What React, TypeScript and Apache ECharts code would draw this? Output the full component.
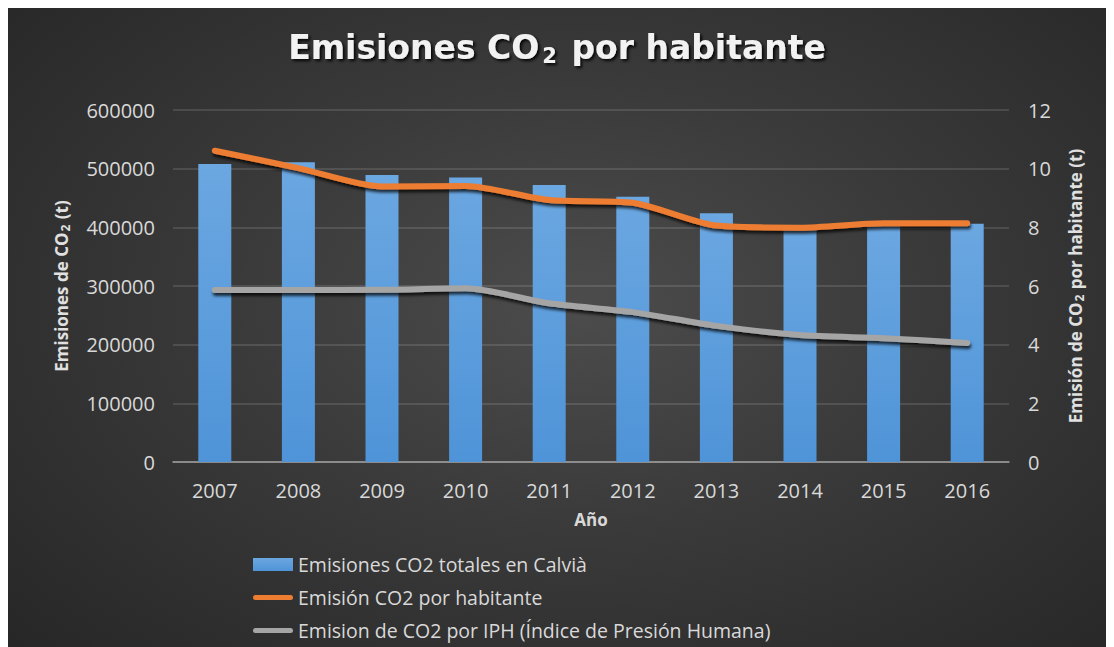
import React, { useEffect, useRef } from "react";
import * as echarts from "echarts";

const years = ["2007", "2008", "2009", "2010", "2011", "2012", "2013", "2014", "2015", "2016"];
const totalEmissions = [508000, 511000, 489000, 485000, 472000, 452000, 424000, 400000, 403000, 406000];
const perInhabitant = [10.61, 10.02, 9.39, 9.41, 8.93, 8.84, 8.06, 7.99, 8.14, 8.14];
const perIPH = [5.86, 5.86, 5.87, 5.92, 5.41, 5.11, 4.64, 4.33, 4.22, 4.06];

const barName = "Emisiones CO2 totales en Calvià";
const orangeName = "Emisión CO2 por habitante";
const grayName = "Emision de CO2 por IPH (Índice de Presión Humana)";

const FONT = "'Open Sans', 'Noto Sans', sans-serif";
const TITLE_FONT = "'DejaVu Sans', 'Open Sans', sans-serif";
const LINE_ICON =
  "path://M2.5,0 L37.5,0 A2.5,2.5 0 0 1 37.5,5 L2.5,5 A2.5,2.5 0 0 1 2.5,0 Z";

export default function App() {
  const ref = useRef<HTMLDivElement>(null);

  useEffect(() => {
    if (!ref.current) return;
    const chart = echarts.init(ref.current, null, { renderer: "svg" });
    const lineShadow = {
      shadowColor: "rgba(0,0,0,0.75)",
      shadowBlur: 3,
      shadowOffsetX: 1,
      shadowOffsetY: 3,
    };
    const titleShadow = {
      textShadowColor: "rgba(0,0,0,0.9)",
      textShadowBlur: 3,
      textShadowOffsetX: 2,
      textShadowOffsetY: 2,
    };
    const axisNameRich = {
      a: { color: "#e0e0e0", fontSize: 17, fontWeight: "bold", fontFamily: FONT },
      s: {
        color: "#e0e0e0",
        fontSize: 12,
        fontWeight: "bold",
        fontFamily: FONT,
        padding: [8, 1, 0, 1],
      },
    };
    chart.setOption({
      animation: false,
      backgroundColor: "transparent",
      textStyle: { fontFamily: FONT },
      title: {
        text: "{t|Emisiones CO}{s|2}{t| por habitante}",
        left: "center",
        top: 16,
        textStyle: {
          rich: {
            t: {
              fontSize: 33,
              fontWeight: "bold",
              color: "#f2f2f2",
              fontFamily: TITLE_FONT,
              ...titleShadow,
            },
            s: {
              fontSize: 21,
              fontWeight: "bold",
              color: "#f2f2f2",
              fontFamily: TITLE_FONT,
              padding: [16, 3, 0, 3],
              ...titleShadow,
            },
          },
        },
      },
      grid: { left: 165, right: 97, top: 102, bottom: 206 },
      legend: {
        orient: "vertical",
        left: 245,
        top: 546,
        padding: 0,
        itemWidth: 40,
        itemHeight: 13,
        itemGap: 12,
        selectedMode: false,
        textStyle: { color: "#d9d9d9", fontSize: 19.5, lineHeight: 21, fontFamily: FONT },
        data: [
          { name: barName, icon: "rect" },
          { name: orangeName, icon: LINE_ICON },
          { name: grayName, icon: LINE_ICON },
        ],
      },
      xAxis: {
        type: "category",
        data: years,
        name: "Año",
        nameLocation: "middle",
        nameGap: 49,
        nameTextStyle: { color: "#d9d9d9", fontSize: 17, fontWeight: "bold", fontFamily: FONT },
        axisLine: { lineStyle: { color: "#a0a0a0", width: 1.5 } },
        axisTick: { show: false },
        axisLabel: { color: "#d9d9d9", fontSize: 20, margin: 18, fontFamily: FONT },
      },
      yAxis: [
        {
          type: "value",
          min: 0,
          max: 600000,
          interval: 100000,
          name: "{a|Emisiones de CO}{s|2}{a| (t)}",
          nameLocation: "middle",
          nameRotate: 90,
          nameGap: 102,
          nameTextStyle: { rich: axisNameRich },
          axisLine: { show: false },
          axisTick: { show: false },
          axisLabel: {
            color: "#d9d9d9",
            fontSize: 20,
            margin: 18,
            fontFamily: FONT,
            formatter: (v: number) => String(v),
          },
          splitLine: { lineStyle: { color: "rgba(255,255,255,0.16)", width: 1.5 } },
        },
        {
          type: "value",
          min: 0,
          max: 12,
          interval: 2,
          name: "{a|Emisión de CO}{s|2}{a| por habitante (t)}",
          nameLocation: "middle",
          nameRotate: 90,
          nameGap: 56,
          nameTextStyle: { rich: axisNameRich },
          axisLine: { show: false },
          axisTick: { show: false },
          axisLabel: { color: "#d9d9d9", fontSize: 20, margin: 19, fontFamily: FONT },
          splitLine: { show: false },
        },
      ],
      series: [
        {
          name: barName,
          type: "bar",
          data: totalEmissions,
          barWidth: 33,
          itemStyle: {
            color: new echarts.graphic.LinearGradient(0, 0, 0, 1, [
              { offset: 0, color: "#6ba7e1" },
              { offset: 1, color: "#4f94d8" },
            ]),
          },
        },
        {
          name: orangeName,
          type: "line",
          yAxisIndex: 1,
          data: perInhabitant,
          smooth: 0.25,
          symbol: "none",
          color: "#ed7d31",
          lineStyle: { color: "#ed7d31", width: 6, cap: "round", join: "round", ...lineShadow },
          itemStyle: { color: "#ed7d31" },
        },
        {
          name: grayName,
          type: "line",
          yAxisIndex: 1,
          data: perIPH,
          smooth: 0.25,
          symbol: "none",
          color: "#a5a5a5",
          lineStyle: { color: "#a5a5a5", width: 6, cap: "round", join: "round", ...lineShadow },
          itemStyle: { color: "#a5a5a5" },
        },
      ],
    });
    return () => chart.dispose();
  }, []);

  return (
    <div
      ref={ref}
      style={{
        width: 1098,
        height: 660,
        background:
          "radial-gradient(ellipse 70% 75% at 52% 45%, #4c4c4c 0%, #3a3a3a 45%, #272727 100%)",
      }}
    />
  );
}
